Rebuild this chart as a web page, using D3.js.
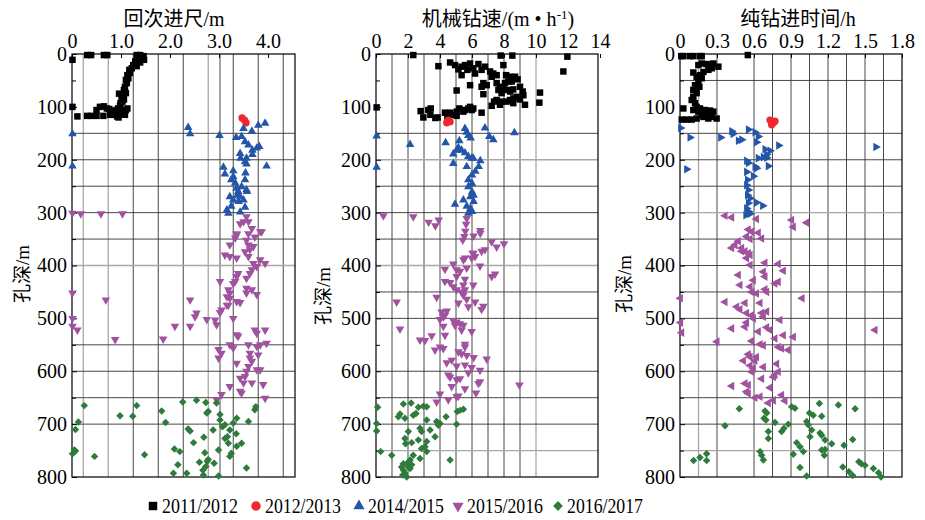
<!DOCTYPE html>
<html>
<head>
<meta charset="utf-8">
<script src="https://cdn.jsdelivr.net/npm/d3@7"></script>
<style>
  body { margin: 0; background: #fff; }
  svg text { font-family: "Liberation Serif", "Noto Sans CJK SC", serif; fill: #000; }
</style>
</head>
<body>
<svg id="chart" width="925" height="520"></svg>
<script>
// ---- data (value, depth in m) ----
const seriesNames = ["2011/2012", "2012/2013", "2014/2015", "2015/2016", "2016/2017"];
const seriesColors = ["#000000", "#f0282d", "#2356a8", "#a0529f", "#2e7b3c"];

const depthTicks = [0, 100, 200, 300, 400, 500, 600, 700, 800];
const depthMinor = [50, 150, 250, 350, 450, 550, 650, 750];

// panel 1: 回次进尺/m
const p1Ticks = [0, 1, 2, 3, 4];
const p1Black = [[0.01,11],[0.31,2],[0.39,2],[0.65,2],[0.72,2],[1.32,2],[1.39,2],[1.46,4],[1.42,8],[1.35,11],[1.29,14],[1.47,11],[1.39,16],[1.25,21],[1.32,23],[1.22,27],[1.17,30],[1.18,36],[1.13,40],[1.15,46],[1.10,49],[1.12,55],[1.08,62],[1.06,68],[1.10,74],[1.05,78],[0.96,75],[1.01,81],[1.06,86],[1.03,90],[0.99,93],[0.98,98],[0.94,103],[0.91,106],[0.88,109],[0.81,107],[0.76,104],[0.71,103],[0.65,99],[0.57,100],[0.50,106],[0.40,117],[0.31,117],[0.11,118],[0.50,117],[0.64,117],[0.78,115],[0.84,115],[0.92,118],[0.99,113],[1.05,107],[1.10,106],[1.13,103],[0.01,100],[1.00,110],[1.08,115],[0.95,120]];
const p1Red = [[3.47,121],[3.52,125],[3.55,130]];
const p1Blue = [[2.37,139],[2.41,151],[0.01,151],[3.01,154],[3.50,141],[3.80,135],[3.94,131],[3.67,146],[3.35,158],[3.46,156],[3.53,166],[3.60,172],[3.68,182],[3.77,178],[3.82,175],[3.68,190],[3.43,188],[3.44,197],[3.56,197],[3.53,204],[3.56,208],[0.01,212],[3.97,212],[3.09,214],[3.12,227],[3.29,221],[3.29,232],[3.25,238],[3.33,244],[3.36,254],[3.39,260],[3.56,257],[3.53,238],[3.54,225],[3.43,270],[3.22,270],[3.29,276],[3.40,279],[3.25,288],[3.16,295],[3.19,301],[3.43,299],[3.53,290],[3.50,276],[3.57,260],[3.37,267],[3.46,251]];
const p1Purple = [[0.01,301],[0.18,302],[0.59,302],[1.03,302],[3.56,308],[3.43,321],[3.50,317],[3.60,317],[3.67,330],[3.36,340],[3.60,340],[3.87,336],[3.73,346],[3.36,342],[3.33,348],[3.22,361],[3.56,352],[3.60,361],[3.63,370],[3.53,374],[3.70,364],[3.84,336],[3.12,380],[3.22,383],[3.36,386],[3.60,383],[3.70,396],[3.84,389],[3.94,396],[3.77,402],[3.67,408],[3.63,415],[3.56,424],[3.39,415],[3.36,421],[3.33,430],[3.29,434],[3.02,430],[3.19,446],[3.22,452],[3.56,443],[3.67,446],[3.56,452],[3.77,455],[3.16,459],[3.22,462],[3.16,475],[3.05,484],[3.02,489],[3.19,475],[3.36,468],[3.43,470],[3.29,500],[2.92,503],[2.95,512],[2.75,502],[2.54,490],[2.51,497],[2.41,465],[2.41,515],[2.10,515],[1.86,539],[0.88,540],[0.69,465],[0.11,522],[0.01,500],[0.01,515],[0.01,452],[3.36,531],[3.39,534],[3.22,550],[3.29,556],[2.99,559],[3.05,566],[2.99,575],[3.60,550],[3.63,566],[3.63,575],[3.67,581],[3.60,591],[3.84,550],[3.77,553],[3.80,569],[3.94,522],[3.97,547],[3.73,522],[3.77,528],[3.36,585],[3.56,600],[3.53,610],[3.43,613],[3.50,622],[3.67,622],[3.43,638],[3.46,641],[3.22,629],[3.05,644],[2.95,654],[3.77,597],[3.84,597],[3.90,625],[3.94,651]];
const p1Green = [[0.25,665],[0.13,696],[0.07,710],[0.05,749],[0.01,756],[0.07,751],[0.46,761],[0.98,684],[1.24,685],[1.32,665],[1.48,758],[1.83,675],[1.91,697],[2.09,747],[2.16,777],[2.26,658],[2.20,752],[2.37,709],[2.41,713],[2.48,735],[2.54,655],[2.69,725],[2.73,659],[2.75,679],[2.78,676],[2.76,770],[2.71,754],[2.73,780],[2.67,787],[2.60,772],[2.68,796],[2.78,767],[2.88,711],[2.90,774],[2.95,660],[2.99,749],[3.02,682],[3.02,692],[3.07,705],[3.12,727],[3.17,724],[3.19,736],[3.22,711],[3.12,701],[3.22,761],[3.25,755],[3.29,698],[3.36,689],[3.35,718],[3.36,742],[3.46,736],[3.56,783],[3.60,695],[3.73,673],[3.75,667],[2.99,798],[2.34,793],[2.07,793]];
const p1GridDark = [1.25, 1.76, 2.27, 3.02, 3.29, 3.80, 4.31];
const p1GridGray = [0.23, 0.74, 2.78];
const p1DepthDark = [150, 200, 250, 300, 350, 550, 600, 650, 700];
const p1DepthGray = [400];

// panel 2: 机械钻速/(m·h-1)
const p2Ticks = [0, 2, 4, 6, 8, 10, 12, 14];
const p2Black = [[2.33,2],[8.52,3],[7.79,3],[11.96,5],[11.71,33],[3.90,23],[4.63,16],[4.94,21],[5.15,29],[5.35,24],[5.56,21],[5.71,30],[5.88,18],[6.08,27],[6.40,19],[6.60,30],[5.35,40],[6.19,37],[5.88,59],[6.81,24],[7.13,33],[7.33,37],[7.23,43],[7.54,40],[7.96,21],[8.13,40],[8.38,43],[8.69,43],[8.85,48],[8.27,52],[8.48,52],[8.06,55],[7.54,55],[6.71,55],[6.92,59],[6.60,62],[6.71,76],[7.75,62],[7.96,65],[8.17,68],[7.65,68],[7.85,74],[8.38,71],[8.58,67],[9.00,62],[9.17,71],[9.21,78],[8.79,81],[8.58,84],[8.38,87],[8.17,90],[8.58,93],[7.54,87],[7.38,90],[7.23,98],[7.75,96],[7.85,90],[9.00,86],[9.31,96],[10.25,73],[10.21,92],[5.04,69],[0.04,101],[2.79,108],[2.96,120],[3.27,106],[3.42,103],[3.40,115],[3.71,121],[3.85,120],[4.31,111],[4.46,118],[4.63,111],[4.83,115],[5.04,109],[5.21,103],[5.46,109],[5.56,106],[5.77,103],[5.88,100],[6.08,103],[5.98,106],[6.60,111],[5.04,117]];
const p2Red = [[4.52,125],[4.63,128],[4.42,130]];
const p2Blue = [[0.04,155],[0.04,214],[2.13,171],[4.35,168],[5.56,141],[5.67,148],[5.77,154],[5.92,159],[6.81,140],[7.08,156],[7.33,162],[8.65,149],[5.21,164],[5.15,177],[5.04,182],[5.35,182],[4.83,189],[5.56,187],[5.77,194],[5.98,197],[6.08,197],[4.83,207],[5.67,213],[6.52,202],[6.42,213],[6.21,222],[6.00,229],[5.77,238],[6.00,245],[5.77,251],[6.00,261],[6.10,267],[5.90,270],[5.46,276],[6.10,279],[4.94,284],[5.67,288],[5.90,292],[6.00,298],[5.77,301]];
const p2Purple = [[0.46,306],[2.33,308],[3.29,318],[3.71,325],[3.92,314],[5.67,311],[5.63,322],[5.58,335],[5.52,345],[5.42,352],[6.10,344],[6.52,334],[6.52,339],[6.81,370],[7.23,355],[7.54,365],[8.00,359],[6.04,377],[6.19,383],[5.56,386],[6.08,377],[5.98,386],[6.60,373],[5.46,389],[4.83,397],[4.31,407],[5.04,408],[5.25,411],[5.67,405],[6.50,401],[7.23,421],[7.44,416],[4.31,430],[4.63,432],[5.04,421],[5.56,426],[5.46,437],[6.08,437],[4.83,440],[5.04,446],[5.35,450],[5.56,446],[5.46,456],[5.15,471],[5.67,464],[5.77,478],[6.19,469],[6.71,477],[6.60,483],[1.29,469],[1.50,520],[3.79,460],[4.10,488],[4.42,486],[4.00,502],[4.21,497],[4.31,494],[4.83,504],[4.94,513],[5.04,507],[5.25,510],[5.46,513],[5.35,522],[5.98,525],[4.21,515],[4.31,532],[3.48,533],[2.75,541],[3.06,542],[3.69,560],[4.00,554],[4.21,557],[5.56,549],[5.56,554],[5.15,563],[5.35,567],[5.67,570],[6.10,574],[6.92,577],[4.42,584],[4.73,579],[5.04,590],[5.56,588],[5.98,593],[6.50,598],[4.52,607],[4.63,611],[5.04,616],[5.25,614],[5.77,603],[6.40,623],[6.50,620],[4.73,629],[5.56,633],[6.25,641],[4.00,643],[3.79,658],[4.52,654],[5.04,648],[5.15,647],[8.96,626]];
const p2Green = [[0.10,668],[0.04,699],[0.04,713],[0.29,752],[0.98,759],[1.71,662],[2.19,660],[2.65,668],[2.96,666],[3.17,667],[1.50,681],[1.40,686],[1.81,689],[2.33,683],[2.50,680],[3.17,692],[2.75,708],[2.85,714],[3.38,711],[3.79,695],[4.00,699],[3.90,702],[4.38,686],[5.08,676],[5.25,674],[5.46,672],[5.04,700],[2.02,714],[1.81,727],[2.23,735],[1.85,737],[2.65,730],[3.17,733],[3.06,743],[3.17,752],[2.85,746],[2.75,765],[3.69,724],[2.33,759],[2.13,768],[1.92,775],[1.71,775],[2.02,781],[1.71,787],[1.81,793],[1.92,800],[2.13,784],[2.23,777],[4.63,768],[1.60,781],[1.67,796]];
const p2GridDark = [1, 2, 3, 4, 5, 6, 7, 8, 9];
const p2GridGray = [10];
const p2DepthDark = [150, 250, 300, 350, 450, 500, 600, 650, 700];
const p2DepthGray = [200, 400, 750];

// panel 3: 纯钻进时间/h
const p3Ticks = [0, 0.3, 0.6, 0.9, 1.2, 1.5, 1.8];
const p3Black = [[0.01,4],[0.027,4],[0.081,4],[0.108,4],[0.162,4],[0.176,4],[0.55,2],[0.149,21],[0.176,18],[0.216,19],[0.243,21],[0.270,18],[0.311,24],[0.257,27],[0.230,30],[0.190,34],[0.108,35],[0.162,40],[0.135,43],[0.176,46],[0.149,52],[0.122,59],[0.157,62],[0.108,68],[0.135,74],[0.108,81],[0.095,87],[0.122,93],[0.135,100],[0.162,103],[0.203,106],[0.243,107],[0.270,109],[0.216,115],[0.190,119],[0.135,122],[0.095,124],[0.054,124],[0.014,124],[0.027,103],[0.108,106],[0.297,122],[0.176,115],[0.149,109],[0.257,119],[0.230,122]];
const p3Red = [[0.73,125],[0.757,130],[0.77,127],[0.743,134]];
const p3Blue = [[0.005,140],[0.081,158],[0.054,218],[0.33,158],[0.419,146],[0.43,151],[0.473,164],[0.50,162],[0.554,143],[0.608,148],[0.635,156],[0.62,167],[0.689,180],[0.73,183],[0.703,190],[0.676,195],[0.635,197],[0.703,196],[0.80,173],[1.588,176],[0.716,212],[0.54,202],[0.554,206],[0.608,213],[0.62,216],[0.54,223],[0.595,231],[0.547,238],[0.54,248],[0.554,257],[0.547,267],[0.568,273],[0.62,281],[0.67,287],[0.54,292],[0.554,298],[0.534,305],[0.568,302],[0.554,282]];
const p3Purple = [[0.365,306],[0.419,309],[0.62,312],[0.905,314],[0.919,327],[1.027,319],[0.554,332],[0.581,336],[0.635,338],[0.54,345],[0.568,350],[0.662,349],[0.473,354],[0.446,361],[0.419,367],[0.50,367],[0.527,373],[0.568,380],[0.50,373],[0.554,377],[0.54,386],[0.568,399],[0.689,395],[0.797,397],[0.838,410],[0.77,434],[0.797,431],[0.473,418],[0.486,437],[0.595,428],[0.568,440],[0.581,450],[0.62,453],[0.689,445],[0.703,450],[0.676,412],[0.689,421],[0.365,469],[0.46,478],[0.486,483],[0.527,471],[0.54,490],[0.581,494],[0.595,500],[0.662,490],[0.703,487],[0.676,497],[0.649,471],[0.419,519],[0.54,508],[0.527,516],[0.635,525],[0.703,517],[0.73,522],[0.77,538],[0.81,503],[0.838,532],[0.797,554],[0.824,557],[0.878,560],[0.919,535],[0.581,543],[0.649,549],[0.676,551],[1.581,522],[0.99,462],[0.003,462],[0.005,508],[0.014,527],[0.30,544],[0.514,580],[0.554,568],[0.568,573],[0.62,573],[0.608,580],[0.568,589],[0.595,595],[0.581,601],[0.676,592],[0.784,586],[0.797,601],[0.757,611],[0.77,607],[0.662,614],[0.73,631],[0.527,623],[0.554,626],[0.419,628],[0.54,639],[0.554,642],[0.608,650],[0.649,648],[0.716,660],[0.757,655],[0.824,645],[0.851,656]];
const p3Green = [[0.481,671],[0.365,703],[0.689,675],[0.703,679],[0.681,689],[0.697,692],[0.77,697],[0.716,714],[0.716,727],[0.824,714],[0.843,708],[0.878,700],[0.905,667],[0.932,670],[0.946,735],[0.973,743],[1.00,752],[0.919,757],[0.973,782],[1.027,798],[1.027,695],[1.04,701],[1.068,711],[1.054,724],[1.05,679],[1.08,683],[1.149,685],[1.13,661],[1.135,717],[1.149,721],[1.176,730],[1.23,737],[1.149,749],[1.176,748],[1.17,759],[1.284,664],[1.33,740],[1.40,729],[1.42,671],[1.45,771],[1.47,775],[1.50,778],[1.568,784],[1.61,792],[1.37,790],[1.40,797],[1.32,781],[1.63,800],[0.649,752],[0.662,759],[0.676,768],[0.11,769],[0.162,763],[0.216,756],[0.216,769]];
const p3GridDark = [0.3, 0.6, 0.75, 0.9, 1.05, 1.2, 1.35, 1.5, 1.65];
const p3GridGray = [0.15];
const p3DepthDark = [50, 150, 200, 250, 350, 400, 450, 500, 550, 600, 650, 700];
const p3DepthGray = [300, 750];

// ---- layout ----
const svg = d3.select("#chart");
const y = d3.scaleLinear().domain([0, 800]).range([54, 477]);

const panels = [
  { title: "回次进尺/m", tcx: 174, domain: [0, 4.55], range: [72, 295], ticks: p1Ticks,
    fmt: d => d === 0 ? "0" : d3.format(".1f")(d), ylab: [22, 274],
    series: [p1Black, p1Red, p1Blue, p1Purple, p1Green], shapes: ["square","circle","up","down","diamond"],
    gridDark: p1GridDark, gridGray: p1GridGray, depthDark: p1DepthDark, depthGray: p1DepthGray },
  { title: "机械钻速/(m • h", sup: "-1", tcx: 498, domain: [0, 13.875], range: [376, 598], ticks: p2Ticks,
    fmt: d3.format("d"), ylab: [323, 296],
    series: [p2Black, p2Red, p2Blue, p2Purple, p2Green], shapes: ["square","circle","up","down","diamond"],
    gridDark: p2GridDark, gridGray: p2GridGray, depthDark: p2DepthDark, depthGray: p2DepthGray },
  { title: "纯钻进时间/h", tcx: 798, domain: [0, 1.8], range: [680, 902], ticks: p3Ticks,
    fmt: d => d === 0 ? "0" : d3.format(".1f")(d), ylab: [624, 284],
    series: [p3Black, p3Red, p3Blue, p3Purple, p3Green], shapes: ["square","circle","right","left","diamond"],
    gridDark: p3GridDark, gridGray: p3GridGray, depthDark: p3DepthDark, depthGray: p3DepthGray }
];

const shapeDef = {
  square:  { type: d3.symbolSquare,   size: 42, rot: 0 },
  circle:  { type: d3.symbolCircle,   size: 42, rot: 0 },
  up:      { type: d3.symbolTriangle, size: 32, rot: 0 },
  down:    { type: d3.symbolTriangle, size: 32, rot: 180 },
  right:   { type: d3.symbolTriangle, size: 32, rot: 90 },
  left:    { type: d3.symbolTriangle, size: 32, rot: -90 },
  diamond: { type: d3.symbolSquare,   size: 28, rot: 45 }
};

panels.forEach(p => {
  const x = d3.scaleLinear().domain(p.domain).range(p.range);
  const g = svg.append("g");
  const [x0, x1] = p.range, [y0, y1] = y.range();

  // grid
  g.selectAll(".vg").data(p.gridGray).join("line")
    .attr("x1", d => x(d)).attr("x2", d => x(d)).attr("y1", y0).attr("y2", y1)
    .attr("stroke", "#a8a8a8").attr("stroke-width", 1.3);
  g.selectAll(".vd").data(p.gridDark).join("line")
    .attr("x1", d => x(d)).attr("x2", d => x(d)).attr("y1", y0).attr("y2", y1)
    .attr("stroke", "#333").attr("stroke-width", 0.9);
  g.selectAll(".hg").data(p.depthGray).join("line")
    .attr("x1", x0).attr("x2", x1).attr("y1", d => y(d)).attr("y2", d => y(d))
    .attr("stroke", "#a8a8a8").attr("stroke-width", 1.3);
  g.selectAll(".hd").data(p.depthDark).join("line")
    .attr("x1", x0).attr("x2", x1).attr("y1", d => y(d)).attr("y2", d => y(d))
    .attr("stroke", "#333").attr("stroke-width", 0.9);

  // axes
  g.append("g").attr("transform", `translate(0,${y0})`)
    .call(d3.axisTop(x).tickValues(p.ticks).tickFormat(p.fmt).tickSize(-4).tickPadding(6));
  g.append("g").attr("transform", `translate(${x0},0)`)
    .call(d3.axisLeft(y).tickValues(depthTicks).tickSize(-5).tickPadding(5));
  g.append("g").attr("transform", `translate(${x0},0)`)
    .call(d3.axisLeft(y).tickValues(depthMinor).tickFormat("").tickSize(-4));
  g.selectAll(".domain").remove();
  g.selectAll(".tick line").attr("stroke", "#000");
  g.selectAll(".tick text").style("font-size", "20px");

  // frame
  g.append("rect").attr("x", x0).attr("y", y0).attr("width", x1 - x0).attr("height", y1 - y0)
    .attr("fill", "none").attr("stroke", "#000").attr("stroke-width", 1.2);

  // points
  p.series.forEach((data, i) => {
    const s = shapeDef[p.shapes[i]];
    const path = d3.symbol(s.type, s.size)();
    g.append("g").selectAll("path").data(data).join("path")
      .attr("d", path)
      .attr("transform", d => `translate(${x(d[0])},${y(d[1])}) rotate(${s.rot})`)
      .attr("fill", seriesColors[i]);
  });

  // titles
  const t = svg.append("text").attr("x", p.tcx).attr("y", 26).attr("text-anchor", "middle")
    .style("font-size", "20px").text(p.title);
  if (p.sup) {
    t.append("tspan").attr("dy", -7).style("font-size", "13px").text(p.sup);
    t.append("tspan").attr("dy", 7).text(")");
  }
  svg.append("text")
    .attr("transform", `translate(${p.ylab[0]},${p.ylab[1]}) rotate(-90)`)
    .attr("text-anchor", "middle").attr("dy", "0.35em")
    .style("font-size", "19px").text("孔深/m");
});

// legend
const legendShapes = ["square", "circle", "up", "down", "diamond"];
const legendX = [153, 256, 359, 458, 558];
const lg = svg.append("g");
seriesNames.forEach((name, i) => {
  const s = shapeDef[legendShapes[i]];
  lg.append("path")
    .attr("d", d3.symbol(s.type, s.size * 1.7)())
    .attr("transform", `translate(${legendX[i]},${506}) rotate(${s.rot})`)
    .attr("fill", seriesColors[i]);
  lg.append("text").attr("x", legendX[i] + 9).attr("y", 512.5)
    .attr("textLength", 76).attr("lengthAdjust", "spacingAndGlyphs")
    .style("font-size", "20px").text(name);
});
</script>
</body>
</html>
